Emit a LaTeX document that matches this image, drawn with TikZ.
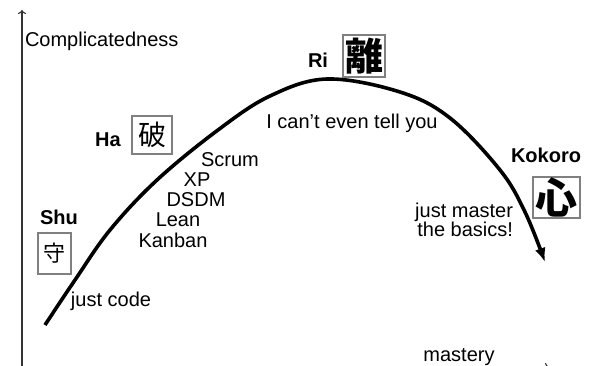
\documentclass[tikz,border=0pt]{standalone}
\usepackage{fontspec}
\setmainfont{Liberation Sans}
\newfontfamily\kanji{Noto Sans CJK JP}
\usetikzlibrary{positioning,arrows.meta}

\begin{document}
\begin{tikzpicture}
[x=1pt,y=-1pt,
 every node/.style={inner sep=0pt,outer sep=0pt,font=\fontsize{20}{20}\selectfont},
 stage/.style={anchor=base,font=\fontsize{20}{20}\selectfont\bfseries},
 note/.style={anchor=base},
 kbox/.style={draw=gray,line width=1.2pt,minimum width=40pt,minimum height=40pt},
 axis/.style={draw=black!80,line width=1.1pt,-{To[length=4pt,width=8pt]}},
 curve/.style={line width=3.6pt,-{Latex[length=14pt,width=11pt]}}]
\useasboundingbox (0,0) rectangle (598,366);

% axes
\coordinate (origin) at (22,367);
\coordinate (ytop)   at (22,10);
\coordinate (xend)   at (549,367);
\draw[axis] (origin) -- (ytop);
\draw[axis] (origin) -- (xend);
\node[anchor=base west] (ylabel) at (25,47) {Complicatedness};
\node[note] (xlabel) at (459,362) {mastery};

% the curve
\coordinate (start) at (45,325);
\coordinate (peak)  at (327,79);
\coordinate (tip)   at (545,262);
\draw[curve] plot[smooth,tension=0.6] coordinates
  {(start) (75,280) (110,230) (157,180) (218,130) (270,96) (peak)
   (400,92) (450,118) (500,170) (525,212) (tip)};

% stages
\node[stage] (shu)    at (59,225)  {Shu};
\node[stage] (ha)     at (108,147) {Ha};
\node[stage] (ri)     at (318,68)  {Ri};
\node[stage] (kokoro) at (546,163) {Kokoro};

\node[kbox,minimum width=33pt,minimum height=41pt] (kshu) at (54.5,253.5)
  {\kanji\fontsize{22}{22}\selectfont 守};
\node[kbox,minimum height=38pt] (kha) at (152,135)
  {\kanji\fontsize{28}{28}\selectfont 破};
\node[kbox,minimum width=42pt,minimum height=42pt] (kri) at (364,56)
  {\kanji\bfseries\fontsize{38}{38}\selectfont 離};
\node[kbox,minimum width=47pt,minimum height=41pt] (kkokoro) at (556.5,197.5)
  {\kanji\bfseries\fontsize{42}{42}\selectfont 心};

% what you do at each stage
\node[note] (code) at (111,307) {just code};
\node (scrum)  at (230,160) {Scrum};
\node (xp)     [on grid,below left=20pt and 33pt of scrum] {XP};
\node (dsdm)   [on grid,below left=20pt and 1pt of xp]     {DSDM};
\node (lean)   [on grid,below left=20pt and 18pt of dsdm]  {Lean};
\node (kanban) [on grid,below left=20pt and 5pt of lean]   {Kanban};
\node[note] (tell) at (352,129) {I can’t even tell you};
\node[align=right,anchor=north east,font=\fontsize{20}{19}\selectfont] (basics) at (513,203)
  {just master\\the basics!};
\end{tikzpicture}
\end{document}
